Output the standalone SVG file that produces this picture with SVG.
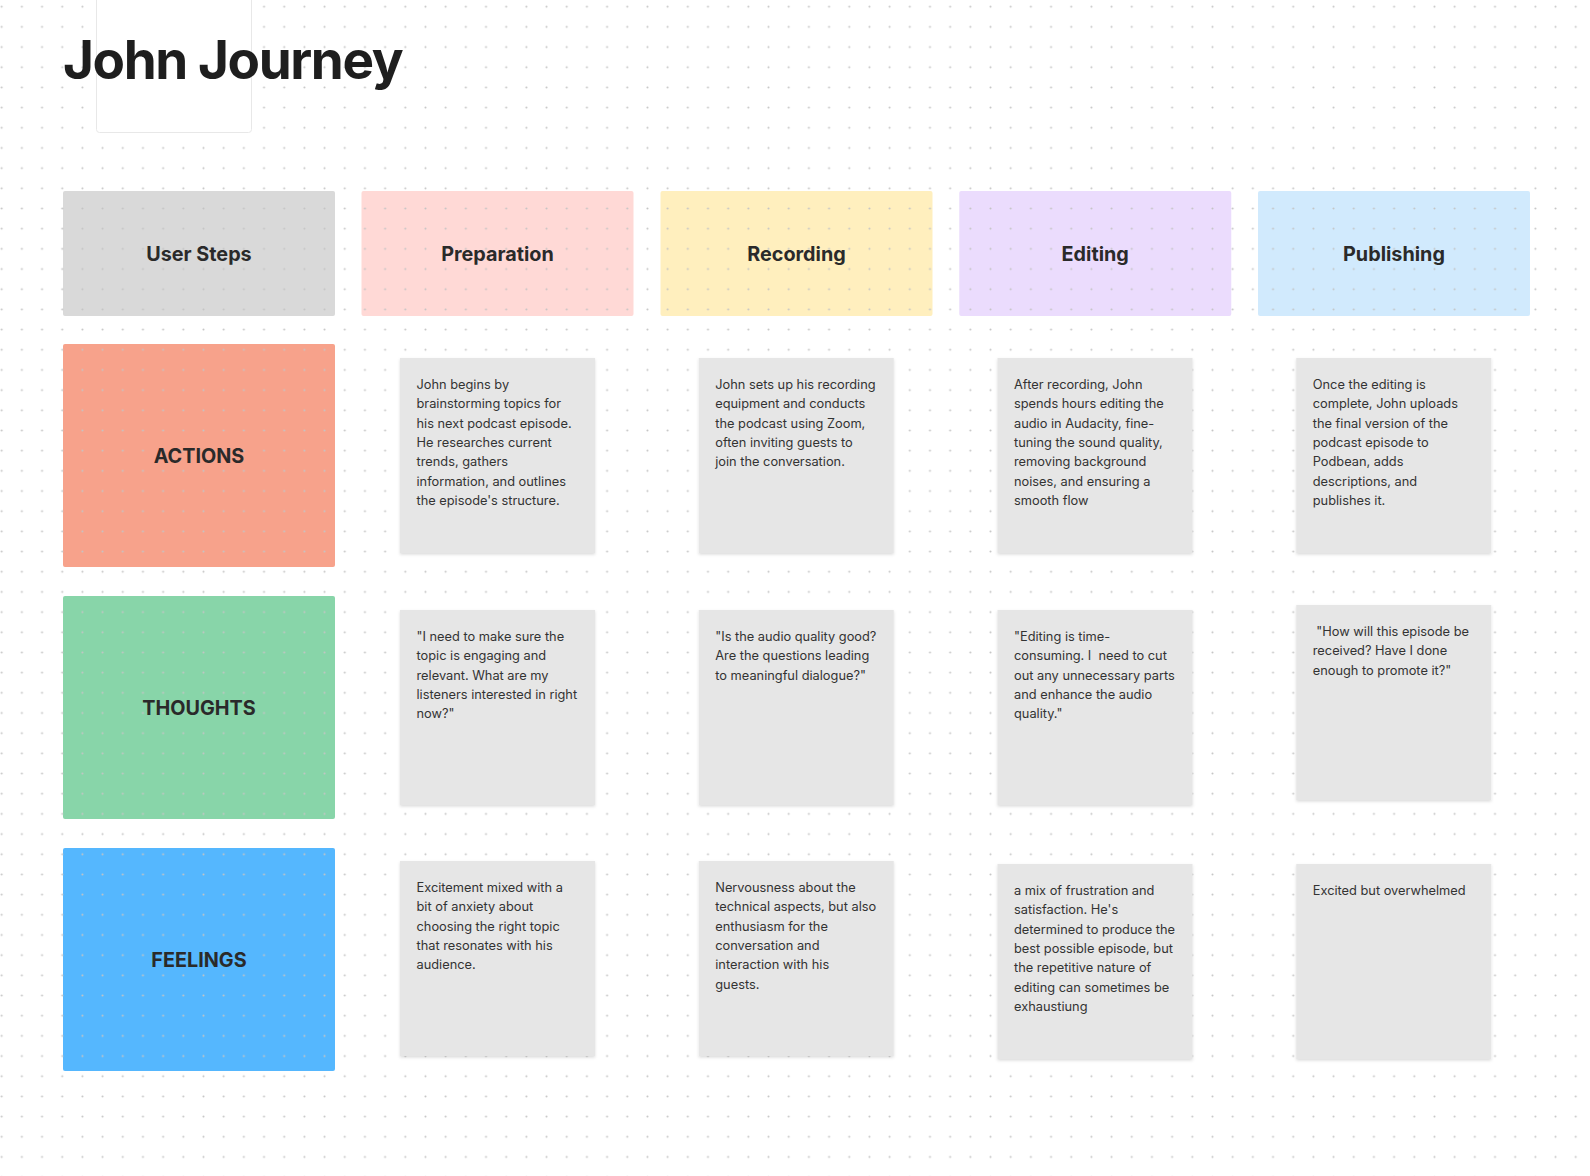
<svg xmlns="http://www.w3.org/2000/svg" width="1590" height="1176" viewBox="0 0 1590 1176">
<defs>
<pattern id="dots" patternUnits="userSpaceOnUse" x="-8.39" y="-3.39" width="20.18" height="20.18">
<circle cx="10.09" cy="10.09" r="1" fill="#c4c4c4"/>
</pattern>
<filter id="sh" x="-10%" y="-10%" width="120%" height="125%">
<feDropShadow dx="0" dy="1.5" stdDeviation="1.5" flood-color="#000" flood-opacity="0.14"/>
</filter>
</defs>
<style>
.hdr{font-family:Inter,"Noto Sans",sans-serif;font-weight:700;font-size:19.8px;fill:#2a2a2a;text-anchor:middle}
.card{fill:#e6e6e6;filter:url(#sh)}
.t{font-family:Inter,"Noto Sans",sans-serif;font-size:12.8px;fill:#333333}
.title{font-family:Inter,"Noto Sans",sans-serif;font-weight:700;font-size:53px;fill:#1e1e1e;letter-spacing:-1.4px}
</style>
<rect width="1590" height="1176" fill="#ffffff"/>
<g id="headers">
<rect x="63" y="191" width="272" height="125" rx="2" fill="#d9d9d9"/>
<rect x="361.5" y="191" width="272" height="125" rx="2" fill="#ffd9d6"/>
<rect x="660.5" y="191" width="272" height="125" rx="2" fill="#ffefbe"/>
<rect x="959.25" y="191" width="272" height="125" rx="2" fill="#ebdcfd"/>
<rect x="1258" y="191" width="272" height="125" rx="2" fill="#d1eafd"/>
<rect x="63" y="344" width="272" height="223" rx="2" fill="#f7a28b"/>
<rect x="63" y="596" width="272" height="223" rx="2" fill="#88d5a9"/>
<rect x="63" y="848" width="272" height="223" rx="2" fill="#55b7fe"/>
</g>
<rect width="1590" height="1176" fill="url(#dots)"/>
<g id="title-box">
<rect x="96.5" y="-5" width="155" height="137.5" rx="3" fill="#ffffff" stroke="#e8e8e8" stroke-width="1"/>
</g>
<g id="title"><text class="title" x="63" y="78.5">John Journey</text></g>
<g id="header-user-steps"><text class="hdr" x="199" y="260.5">User Steps</text></g>
<g id="header-preparation"><text class="hdr" x="497.5" y="260.5">Preparation</text></g>
<g id="header-recording"><text class="hdr" x="796.5" y="260.5">Recording</text></g>
<g id="header-editing"><text class="hdr" x="1095.25" y="260.5">Editing</text></g>
<g id="header-publishing"><text class="hdr" x="1394" y="260.5">Publishing</text></g>
<g id="row-actions"><text class="hdr" x="199" y="462.7">ACTIONS</text></g>
<g id="row-thoughts"><text class="hdr" x="199" y="714.5">THOUGHTS</text></g>
<g id="row-feelings"><text class="hdr" x="199" y="966.5">FEELINGS</text></g>

<g id="card-actions-preparation">
<rect class="card" x="400" y="358" width="195" height="195"/>
<text class="t" x="416.5" y="389">
<tspan x="416.5" dy="0">John begins by</tspan>
<tspan x="416.5" dy="19.33">brainstorming topics for</tspan>
<tspan x="416.5" dy="19.33">his next podcast episode.</tspan>
<tspan x="416.5" dy="19.33">He researches current</tspan>
<tspan x="416.5" dy="19.33">trends, gathers</tspan>
<tspan x="416.5" dy="19.33">information, and outlines</tspan>
<tspan x="416.5" dy="19.33">the episode's structure.</tspan>
</text>
</g>
<g id="card-actions-recording">
<rect class="card" x="698.75" y="358" width="195" height="195"/>
<text class="t" x="715.25" y="389">
<tspan x="715.25" dy="0">John sets up his recording</tspan>
<tspan x="715.25" dy="19.33">equipment and conducts</tspan>
<tspan x="715.25" dy="19.33">the podcast using Zoom,</tspan>
<tspan x="715.25" dy="19.33">often inviting guests to</tspan>
<tspan x="715.25" dy="19.33">join the conversation.</tspan>
</text>
</g>
<g id="card-actions-editing">
<rect class="card" x="997.5" y="358" width="195" height="195"/>
<text class="t" x="1014" y="389">
<tspan x="1014" dy="0">After recording, John</tspan>
<tspan x="1014" dy="19.33">spends hours editing the</tspan>
<tspan x="1014" dy="19.33">audio in Audacity, fine-</tspan>
<tspan x="1014" dy="19.33">tuning the sound quality,</tspan>
<tspan x="1014" dy="19.33">removing background</tspan>
<tspan x="1014" dy="19.33">noises, and ensuring a</tspan>
<tspan x="1014" dy="19.33">smooth flow</tspan>
</text>
</g>
<g id="card-actions-publishing">
<rect class="card" x="1296.25" y="358" width="195" height="195"/>
<text class="t" x="1312.75" y="389">
<tspan x="1312.75" dy="0">Once the editing is</tspan>
<tspan x="1312.75" dy="19.33">complete, John uploads</tspan>
<tspan x="1312.75" dy="19.33">the final version of the</tspan>
<tspan x="1312.75" dy="19.33">podcast episode to</tspan>
<tspan x="1312.75" dy="19.33">Podbean, adds</tspan>
<tspan x="1312.75" dy="19.33">descriptions, and</tspan>
<tspan x="1312.75" dy="19.33">publishes it.</tspan>
</text>
</g>

<g id="card-thoughts-preparation">
<rect class="card" x="400" y="610" width="195" height="195"/>
<text class="t" x="416.5" y="641">
<tspan x="416.5" dy="0">"I need to make sure the</tspan>
<tspan x="416.5" dy="19.33">topic is engaging and</tspan>
<tspan x="416.5" dy="19.33">relevant. What are my</tspan>
<tspan x="416.5" dy="19.33">listeners interested in right</tspan>
<tspan x="416.5" dy="19.33">now?"</tspan>
</text>
</g>
<g id="card-thoughts-recording">
<rect class="card" x="698.75" y="610" width="195" height="195"/>
<text class="t" x="715.25" y="641">
<tspan x="715.25" dy="0">"Is the audio quality good?</tspan>
<tspan x="715.25" dy="19.33">Are the questions leading</tspan>
<tspan x="715.25" dy="19.33">to meaningful dialogue?"</tspan>
</text>
</g>
<g id="card-thoughts-editing">
<rect class="card" x="997.5" y="610" width="195" height="195"/>
<text class="t" x="1014" y="641" xml:space="preserve"><tspan x="1014" dy="0">"Editing is time-</tspan><tspan x="1014" dy="19.33">consuming. I  need to cut</tspan><tspan x="1014" dy="19.33">out any unnecessary parts</tspan><tspan x="1014" dy="19.33">and enhance the audio</tspan><tspan x="1014" dy="19.33">quality."</tspan></text>
</g>
<g id="card-thoughts-publishing">
<rect class="card" x="1296.25" y="605" width="195" height="195"/>
<text class="t" x="1312.75" y="636" xml:space="preserve"><tspan x="1312.75" dy="0"> "How will this episode be</tspan><tspan x="1312.75" dy="19.33">received? Have I done</tspan><tspan x="1312.75" dy="19.33">enough to promote it?"</tspan></text>
</g>

<g id="card-feelings-preparation">
<rect class="card" x="400" y="861" width="195" height="195"/>
<text class="t" x="416.5" y="892">
<tspan x="416.5" dy="0">Excitement mixed with a</tspan>
<tspan x="416.5" dy="19.33">bit of anxiety about</tspan>
<tspan x="416.5" dy="19.33">choosing the right topic</tspan>
<tspan x="416.5" dy="19.33">that resonates with his</tspan>
<tspan x="416.5" dy="19.33">audience.</tspan>
</text>
</g>
<g id="card-feelings-recording">
<rect class="card" x="698.75" y="861" width="195" height="195"/>
<text class="t" x="715.25" y="892">
<tspan x="715.25" dy="0">Nervousness about the</tspan>
<tspan x="715.25" dy="19.33">technical aspects, but also</tspan>
<tspan x="715.25" dy="19.33">enthusiasm for the</tspan>
<tspan x="715.25" dy="19.33">conversation and</tspan>
<tspan x="715.25" dy="19.33">interaction with his</tspan>
<tspan x="715.25" dy="19.33">guests.</tspan>
</text>
</g>
<g id="card-feelings-editing">
<rect class="card" x="997.5" y="864" width="195" height="195"/>
<text class="t" x="1014" y="895">
<tspan x="1014" dy="0">a mix of frustration and</tspan>
<tspan x="1014" dy="19.33">satisfaction. He's</tspan>
<tspan x="1014" dy="19.33">determined to produce the</tspan>
<tspan x="1014" dy="19.33">best possible episode, but</tspan>
<tspan x="1014" dy="19.33">the repetitive nature of</tspan>
<tspan x="1014" dy="19.33">editing can sometimes be</tspan>
<tspan x="1014" dy="19.33">exhaustiung</tspan>
</text>
</g>
<g id="card-feelings-publishing">
<rect class="card" x="1296.25" y="864" width="195" height="195"/>
<text class="t" x="1312.75" y="895">
<tspan x="1312.75" dy="0">Excited but overwhelmed</tspan>
</text>
</g>
<g id="connectors"/>
</svg>
